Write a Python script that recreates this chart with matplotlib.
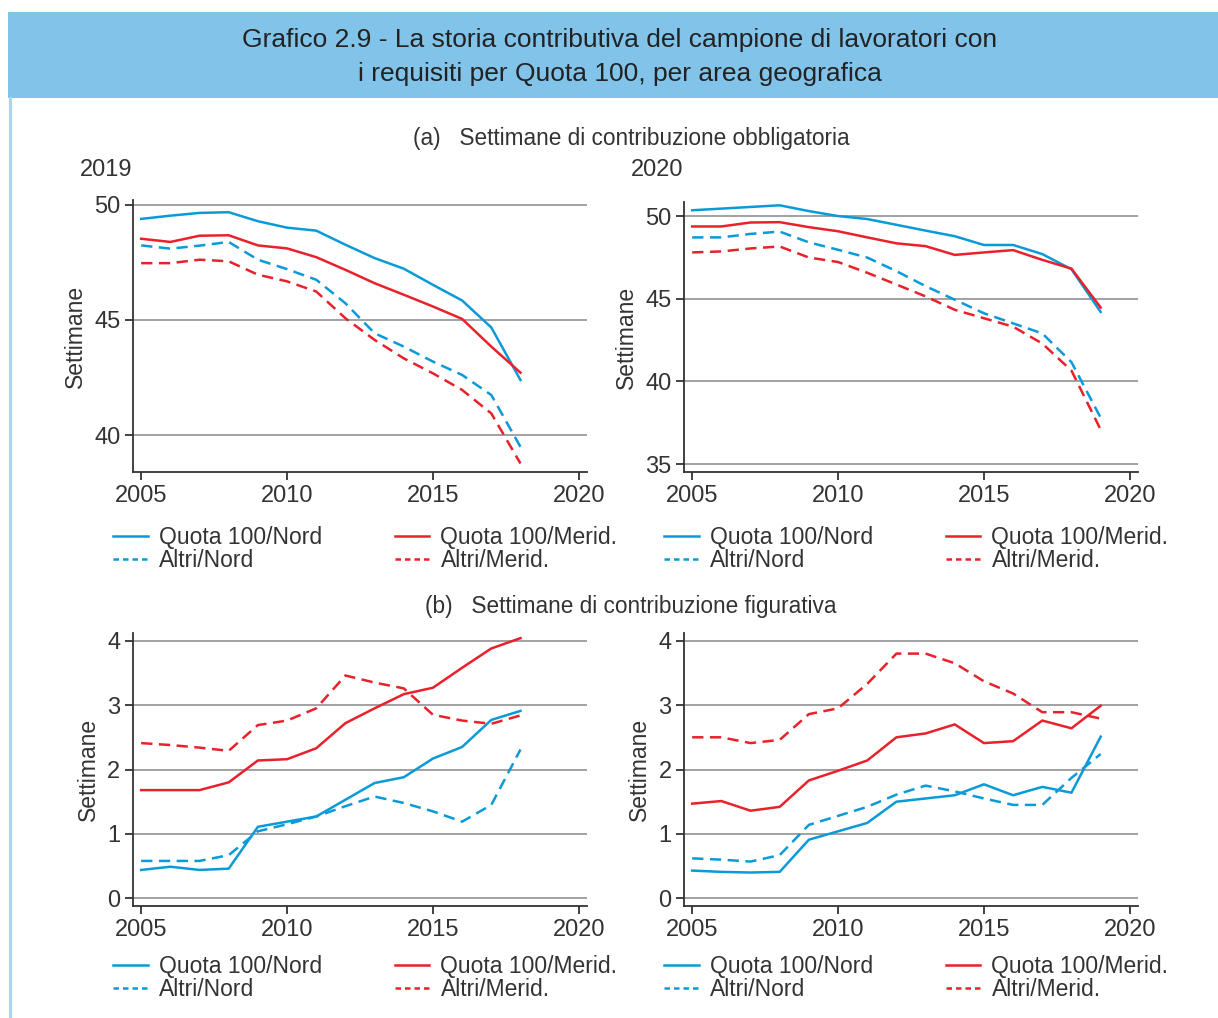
import numpy as np
import matplotlib
matplotlib.use("Agg")
import matplotlib.pyplot as plt
from matplotlib.lines import Line2D
from matplotlib.patches import Rectangle

plt.rcParams["font.family"] = ["Liberation Sans", "DejaVu Sans"]

W, H = 1218, 1018

BLUE = "#0a9ad8"
RED = "#e8212b"
TXT = "#333333"
GRID = "#9a9a9a"

years_2019 = list(range(2005, 2019))
years_2020 = list(range(2005, 2020))

# (a) settimane di contribuzione obbligatoria
obb19_q100_nord = [49.38, 49.52, 49.64, 49.67, 49.28, 49.0, 48.87, 48.26, 47.68, 47.22, 46.52, 45.84, 44.67, 42.39]
obb19_q100_mer = [48.52, 48.38, 48.65, 48.67, 48.23, 48.10, 47.72, 47.17, 46.59, 46.09, 45.58, 45.04, 43.84, 42.71]
obb19_altri_nord = [48.23, 48.09, 48.22, 48.38, 47.61, 47.20, 46.74, 45.72, 44.42, 43.84, 43.19, 42.61, 41.74, 39.49]
obb19_altri_mer = [47.46, 47.46, 47.61, 47.54, 46.96, 46.67, 46.23, 45.07, 44.13, 43.33, 42.68, 41.96, 40.94, 38.77]

obb20_q100_nord = [50.35, 50.45, 50.55, 50.65, 50.3, 50.0, 49.82, 49.47, 49.12, 48.78, 48.25, 48.25, 47.7, 46.78, 44.2]
obb20_q100_mer = [49.37, 49.37, 49.61, 49.63, 49.33, 49.08, 48.71, 48.35, 48.18, 47.65, 47.8, 47.94, 47.35, 46.82, 44.47]
obb20_altri_nord = [48.71, 48.71, 48.92, 49.06, 48.41, 47.96, 47.49, 46.67, 45.76, 44.94, 44.12, 43.51, 42.9, 41.16, 37.8]
obb20_altri_mer = [47.8, 47.86, 48.04, 48.16, 47.49, 47.22, 46.57, 45.86, 45.14, 44.33, 43.82, 43.31, 42.29, 40.65, 37.08]

# (b) settimane di contribuzione figurativa
fig19_q100_nord = [0.44, 0.49, 0.44, 0.46, 1.11, 1.19, 1.27, 1.53, 1.79, 1.88, 2.17, 2.35, 2.77, 2.91]
fig19_q100_mer = [1.68, 1.68, 1.68, 1.80, 2.14, 2.16, 2.33, 2.72, 2.95, 3.17, 3.27, 3.58, 3.88, 4.04]
fig19_altri_nord = [0.58, 0.58, 0.58, 0.67, 1.04, 1.15, 1.27, 1.43, 1.58, 1.48, 1.35, 1.19, 1.45, 2.31]
fig19_altri_mer = [2.41, 2.38, 2.34, 2.29, 2.69, 2.76, 2.95, 3.46, 3.35, 3.26, 2.85, 2.76, 2.71, 2.84]

fig20_q100_nord = [0.43, 0.41, 0.40, 0.41, 0.91, 1.04, 1.17, 1.50, 1.55, 1.60, 1.77, 1.60, 1.73, 1.64, 2.51]
fig20_q100_mer = [1.47, 1.51, 1.36, 1.42, 1.83, 1.98, 2.14, 2.50, 2.56, 2.70, 2.41, 2.44, 2.76, 2.64, 2.99]
fig20_altri_nord = [0.62, 0.60, 0.57, 0.67, 1.14, 1.28, 1.42, 1.61, 1.75, 1.66, 1.55, 1.45, 1.45, 1.87, 2.24]
fig20_altri_mer = [2.50, 2.50, 2.41, 2.46, 2.86, 2.95, 3.33, 3.80, 3.80, 3.65, 3.37, 3.18, 2.89, 2.89, 2.79]

labels = ["Quota 100/Nord", "Altri/Nord", "Quota 100/Merid.", "Altri/Merid."]


def rect(x0, y0, x1, y1):
    return [x0 / W, 1 - y1 / H, (x1 - x0) / W, (y1 - y0) / H]


def panel(fig, box, years, series, ylim, yticks, leg_y):
    ax = fig.add_axes(rect(*box))
    styles = [(BLUE, "-"), (BLUE, "--"), (RED, "-"), (RED, "--")]
    for vals, (c, ls), lab in zip(series, styles, labels):
        ln, = ax.plot(years, vals, color=c, ls=ls, lw=1.8, label=lab)
        if ls == "--":
            ln.set_dashes((4.5, 2.6))
    ax.set_xlim(2004.72, 2020.28)
    ax.set_ylim(*ylim)
    ax.set_xticks([2005, 2010, 2015, 2020])
    ax.set_yticks(yticks)
    ax.grid(axis="y", color=GRID, lw=1.3)
    ax.set_axisbelow(True)
    ax.spines[["top", "right"]].set_visible(False)
    for s in ("left", "bottom"):
        ax.spines[s].set_color(TXT)
        ax.spines[s].set_linewidth(1.3)
    ax.tick_params(length=6, width=1.3, color=TXT, labelsize=17, labelcolor=TXT, pad=3)
    ax.set_ylabel("Settimane", fontsize=16.5, color=TXT, labelpad=5)

    handles = [Line2D([], [], color=BLUE, lw=1.8),
               Line2D([], [], color=BLUE, lw=1.8, ls=(0, (2.2, 1.6))),
               Line2D([], [], color=RED, lw=1.8),
               Line2D([], [], color=RED, lw=1.8, ls=(0, (2.2, 1.6)))]
    ax.legend(handles, labels, loc="upper left", bbox_to_anchor=(-0.043, leg_y), ncol=2,
              frameon=False, fontsize=16.5, handlelength=1.5, handletextpad=0.5,
              labelspacing=0.0, columnspacing=3.15, borderpad=0, borderaxespad=0,
              labelcolor=TXT)
    return ax


fig = plt.figure(figsize=(W / 100, H / 100), dpi=100)

# header band and left border
fig.patches.append(Rectangle((8 / W, 1 - 98 / H), 1, 86 / H, transform=fig.transFigure,
                             facecolor="#82c3ea", edgecolor="none", zorder=0))
fig.add_artist(Line2D([10 / W, 10 / W], [0, 1 - 98 / H], transform=fig.transFigure,
                      color="#a9d5f0", lw=2.2))

fig.text(620 / W, 1 - 40 / H, "Grafico 2.9 - La storia contributiva del campione di lavoratori con",
         ha="center", va="center", fontsize=19, color="#222222")
fig.text(620 / W, 1 - 74 / H, "i requisiti per Quota 100, per area geografica",
         ha="center", va="center", fontsize=19, color="#222222")

fig.text(631 / W, 1 - 139 / H, "(a)   Settimane di contribuzione obbligatoria",
         ha="center", va="center", fontsize=16.3, color=TXT)
fig.text(631 / W, 1 - 606 / H, "(b)   Settimane di contribuzione figurativa",
         ha="center", va="center", fontsize=16.3, color=TXT)
fig.text(80 / W, 1 - 170 / H, "2019", ha="left", va="center", fontsize=17, color=TXT)
fig.text(631 / W, 1 - 170 / H, "2020", ha="left", va="center", fontsize=17, color=TXT)

panel(fig, (133, 200, 587, 472), years_2019,
      [obb19_q100_nord, obb19_altri_nord, obb19_q100_mer, obb19_altri_mer],
      (38.4, 50.2), [40, 45, 50], -0.20)
panel(fig, (684, 202, 1138, 472), years_2020,
      [obb20_q100_nord, obb20_altri_nord, obb20_q100_mer, obb20_altri_mer],
      (34.52, 50.85), [35, 40, 45, 50], -0.20)
panel(fig, (133, 633, 587, 906), years_2019,
      [fig19_q100_nord, fig19_altri_nord, fig19_q100_mer, fig19_altri_mer],
      (-0.12, 4.12), [0, 1, 2, 3, 4], -0.18)
panel(fig, (684, 633, 1138, 906), years_2020,
      [fig20_q100_nord, fig20_altri_nord, fig20_q100_mer, fig20_altri_mer],
      (-0.12, 4.12), [0, 1, 2, 3, 4], -0.18)

fig.savefig("out.png", dpi=100)
